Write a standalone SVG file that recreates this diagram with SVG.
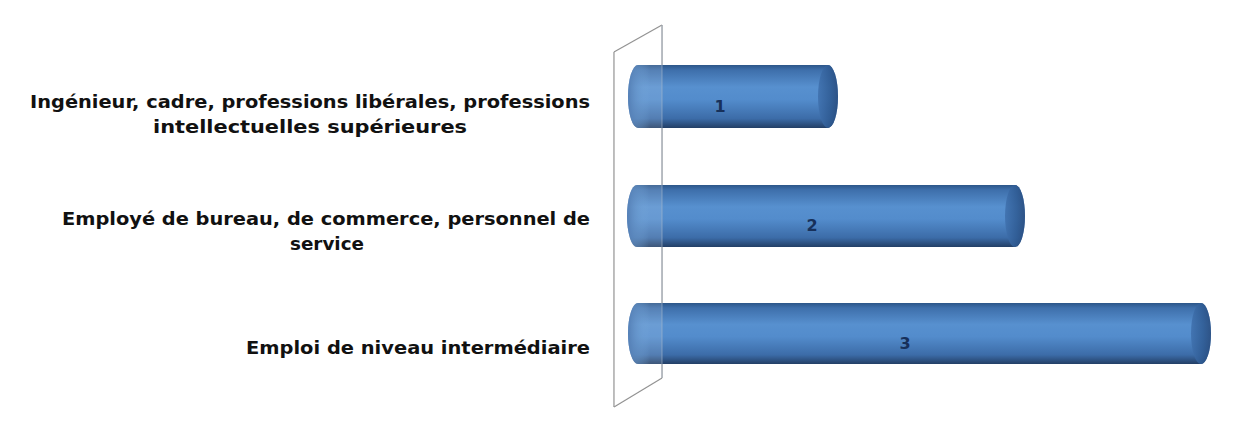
<svg xmlns="http://www.w3.org/2000/svg" width="1250" height="430" viewBox="0 0 1250 430">
<defs>
<linearGradient id="cyl" x1="0" y1="0" x2="0" y2="1">
<stop offset="0" stop-color="#2c5689"/>
<stop offset="0.08" stop-color="#3e6fab"/>
<stop offset="0.35" stop-color="#5790cf"/>
<stop offset="0.55" stop-color="#538ccc"/>
<stop offset="0.85" stop-color="#3c6ca8"/>
<stop offset="1" stop-color="#233f66"/>
</linearGradient>
<linearGradient id="capR" x1="0" y1="0" x2="1" y2="0">
<stop offset="0" stop-color="#3f70ad"/>
<stop offset="0.6" stop-color="#2e5a92"/>
<stop offset="1" stop-color="#27497a"/>
</linearGradient>
<linearGradient id="capL" x1="0" y1="0" x2="1" y2="0">
<stop offset="0" stop-color="#3a6aa8" stop-opacity="0.9"/>
<stop offset="1" stop-color="#6aa6e0" stop-opacity="0"/>
</linearGradient>
<style>
.lbl{font-family:"DejaVu Sans","Liberation Sans",sans-serif;font-weight:bold;font-size:17px;fill:#111;text-anchor:middle}
.num{font-family:"DejaVu Sans","Liberation Sans",sans-serif;font-weight:bold;font-size:16px;fill:#17305a;text-anchor:middle}
.wall{fill:none;stroke:#8c8c8c;stroke-width:1.2}
.face{fill:#ffffff;fill-opacity:0.12;stroke:none}
</style>
</defs>
<rect width="1250" height="430" fill="#ffffff"/>

<g id="axis">
<line class="wall" x1="662" y1="25" x2="662" y2="378"/>
<line class="wall" x1="614" y1="52" x2="614" y2="407"/>
<line class="wall" x1="614" y1="52" x2="662" y2="25"/>
<line class="wall" x1="614" y1="407" x2="662" y2="378"/>
</g>

<g id="bar1">
<path d="M638,65 H828 A10,31.5 0 0 1 828,128 H638 A10,31.5 0 0 1 638,65 Z" fill="url(#cyl)"/>
<path d="M638,65 A10,31.5 0 0 0 638,128 L650,128 L650,65 Z" fill="url(#capL)"/>
<ellipse cx="828" cy="96.5" rx="10" ry="31.5" fill="url(#capR)" opacity="0.85"/>
<text class="num" x="720" y="112">1</text>
</g>

<g id="bar2">
<path d="M637,185 H1015 A10,31 0 0 1 1015,247 H637 A10,31 0 0 1 637,185 Z" fill="url(#cyl)"/>
<path d="M637,185 A10,31 0 0 0 637,247 L649,247 L649,185 Z" fill="url(#capL)"/>
<ellipse cx="1015" cy="216" rx="10" ry="31" fill="url(#capR)" opacity="0.85"/>
<text class="num" x="812" y="231">2</text>
</g>

<g id="bar3">
<path d="M638,303 H1201 A10,30.5 0 0 1 1201,364 H638 A10,30.5 0 0 1 638,303 Z" fill="url(#cyl)"/>
<path d="M638,303 A10,30.5 0 0 0 638,364 L650,364 L650,303 Z" fill="url(#capL)"/>
<ellipse cx="1201" cy="333.5" rx="10" ry="30.5" fill="url(#capR)" opacity="0.85"/>
<text class="num" x="905" y="349">3</text>
</g>

<g id="wallface">
<polygon class="face" points="614,52 662,25 662,378 614,407"/>
<line x1="662" y1="25" x2="662" y2="378" stroke="#a9b9cc" stroke-width="1" opacity="0.6"/>
</g>

<g id="labels">
<text class="lbl" x="310" y="108" textLength="560" lengthAdjust="spacingAndGlyphs">Ingénieur, cadre, professions libérales, professions</text>
<text class="lbl" x="310" y="133" textLength="314" lengthAdjust="spacingAndGlyphs">intellectuelles supérieures</text>
<text class="lbl" x="326" y="225" textLength="528" lengthAdjust="spacingAndGlyphs">Employé de bureau, de commerce, personnel de</text>
<text class="lbl" x="327" y="250" textLength="74" lengthAdjust="spacingAndGlyphs">service</text>
<text class="lbl" x="418" y="354" textLength="344" lengthAdjust="spacingAndGlyphs">Emploi de niveau intermédiaire</text>
</g>
</svg>
